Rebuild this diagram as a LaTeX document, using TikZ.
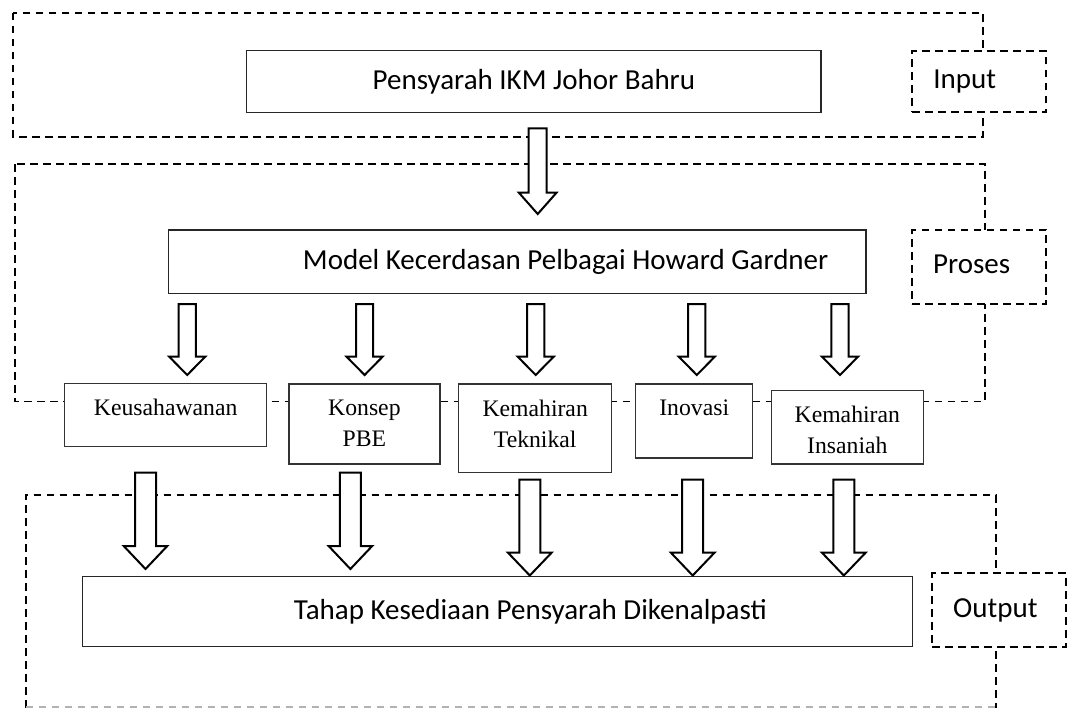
\documentclass[tikz,border=0pt]{standalone}
\usepackage{fontspec}
\setmainfont{Liberation Serif}
\newfontfamily\calibri{Carlito}
\usetikzlibrary{positioning}
\tikzstyle{dashframe} = [line width=0.9pt, dash pattern=on 3.8pt off 2.7pt]
\tikzstyle{mainbox} = [rectangle, draw=black!85, line width=0.75pt, fill=white, inner sep=0pt, font=\calibri\fontsize{14.5pt}{17pt}\selectfont]
\tikzstyle{smallbox} = [rectangle, draw=black!80, line width=0.7pt, fill=white, inner sep=0pt]
\tikzstyle{boxtext} = [anchor=north, inner sep=0pt, align=center, yshift=-8pt, font=\fontsize{11.85pt}{15.5pt}\selectfont]
\tikzstyle{stage} = [rectangle, draw, fill=white, dashframe, text width=46pt, inner xsep=10.5pt, inner ysep=0pt, align=left, font=\calibri\fontsize{14.5pt}{17pt}\selectfont]
\tikzstyle{fat} = [draw, fill=white, line width=1pt, line join=miter]
% block arrow: x, top, start of head, tip, half shaft, half head
\newcommand{\fatarrow}[6]{\draw[fat] (#1-#5,#2) -- (#1+#5,#2) -- (#1+#5,#3) -- (#1+#6,#3) -- (#1,#4) -- (#1-#6,#3) -- (#1-#5,#3) -- cycle;}

\begin{document}
\begin{tikzpicture}[x=0.5pt, y=-0.5pt]
    \useasboundingbox[fill=white] (0,0) rectangle (1071,708);
    % frames
    \draw[dashframe] (13.3,12.8) rectangle (983.3,136.8);
    \draw[dashframe] (15,164) rectangle (985,401.5);
    \draw[dashframe] (25.7,708) -- (25.7,495) -- (995.7,495) -- (995.7,708);
    \draw[dashframe, black!30] (25.7,706.8) -- (995.7,706.8);
    %
    \node(pensyarah) [mainbox, minimum width=287.2pt, minimum height=30.9pt] at (533.9,81.6) {Pensyarah IKM Johor Bahru};
    \node(input) [stage, minimum height=30.8pt] at (979.3,81.5) {\raisebox{1pt}{Input}};
    \node(model) [mainbox, minimum width=348.8pt, minimum height=31.7pt] at (517.2,261.7) {\hspace*{48.4pt}Model Kecerdasan Pelbagai Howard Gardner};
    \node(proses) [stage, minimum height=37pt] at (979.2,267) {\raisebox{3pt}{Proses}};
    %
    \node(keu) [smallbox, minimum width=101pt, minimum height=31.6pt, label={[boxtext]north:Keusahawanan}] at (165.7,415.1) {};
    \node(pbe) [smallbox, minimum width=75.6pt, minimum height=40pt, label={[boxtext]north:Konsep\\PBE}] at (364.4,424) {};
    \node(tek) [smallbox, minimum width=76.5pt, minimum height=44.2pt, label={[boxtext]north:Kemahiran\\Teknikal}] at (535.2,428.2) {};
    \node(ino) [smallbox, minimum width=58.5pt, minimum height=37pt, label={[boxtext]north:Inovasi}] at (694.2,421) {};
    \node(ins) [smallbox, minimum width=76pt, minimum height=36.6pt, label={[boxtext]north:Kemahiran\\Insaniah}] at (847.3,427.3) {};
    %
    \node(tahap) [mainbox, minimum width=415pt, minimum height=35pt] at (497.3,611.7) {\hspace*{33pt}\raisebox{1.5pt}{Tahap Kesediaan Pensyarah Dikenalpasti}};
    \node(output) [stage, minimum height=36.7pt] at (999.2,610) {\raisebox{2pt}{Output}};
    %
    \fatarrow{537.7}{128.3}{192.7}{214}{9}{18.8}
    \fatarrow{187.2}{304}{356.7}{375}{8.6}{18}
    \fatarrow{364.6}{304}{356.7}{375}{8.6}{18}
    \fatarrow{535.7}{304}{356.7}{375}{8.6}{18}
    \fatarrow{696.8}{304}{356.7}{375}{8.6}{18}
    \fatarrow{840}{304}{356.7}{375}{8.6}{18}
    %
    \fatarrow{145.5}{472.5}{546}{569}{10.5}{21.8}
    \fatarrow{350.4}{472.5}{546}{569}{10.5}{21.8}
    \fatarrow{529.8}{479.5}{552.7}{575.5}{10.5}{21.8}
    \fatarrow{692.7}{479.5}{552.7}{575.5}{10.5}{21.8}
    \fatarrow{843.8}{479.5}{552.7}{575.5}{10.5}{21.8}
\end{tikzpicture}
\end{document}
